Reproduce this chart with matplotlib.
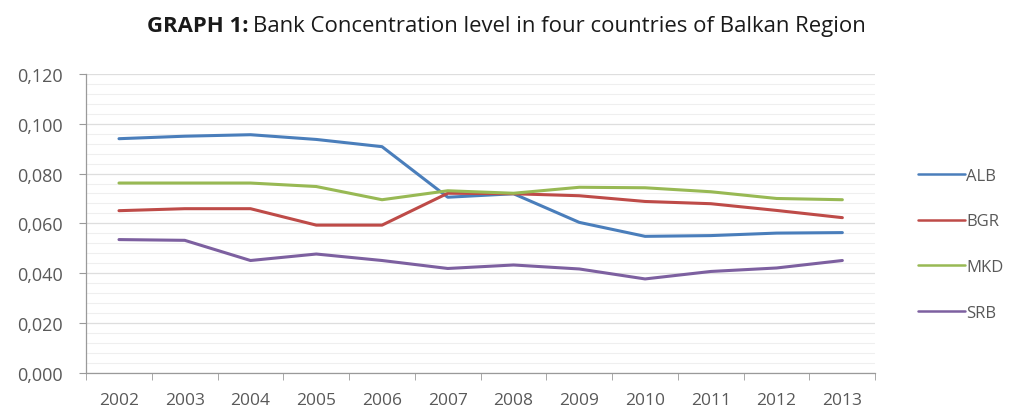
import numpy as np
import matplotlib
matplotlib.use("Agg")
from matplotlib import pyplot as plt
from matplotlib.ticker import MultipleLocator, FixedLocator

# data
years = ['2002', '2003', '2004', '2005', '2006', '2007',
         '2008', '2009', '2010', '2011', '2012', '2013']
alb = [0.094, 0.095, 0.0956, 0.0937, 0.0908, 0.0705,
       0.0719, 0.0604, 0.0548, 0.0551, 0.0561, 0.0563]
bgr = [0.0651, 0.0659, 0.0659, 0.0593, 0.0593, 0.0721,
       0.0719, 0.0711, 0.0688, 0.0679, 0.0652, 0.0623]
mkd = [0.0762, 0.0762, 0.0762, 0.0748, 0.0695, 0.0731,
       0.0721, 0.0745, 0.0743, 0.0727, 0.0700, 0.0695]
srb = [0.0535, 0.0532, 0.0451, 0.0477, 0.0451, 0.0419,
       0.0433, 0.0417, 0.0377, 0.0407, 0.0421, 0.0451]

series = [('ALB', alb, '#4a7ebb'), ('BGR', bgr, '#be4b48'),
          ('MKD', mkd, '#98b954'), ('SRB', srb, '#7d60a0')]

plt.rcParams['font.family'] = ['Open Sans', 'DejaVu Sans']

fig = plt.figure(figsize=(10.13, 4.14), dpi=100)
ax = fig.add_axes([0.085, 0.097, 0.779, 0.722])

x = np.arange(len(years))
for name, vals, col in series:
    ax.plot(x, vals, color=col, lw=2.2, label=name, solid_capstyle='round')

ax.set_xlim(-0.5, len(years) - 0.5)
ax.set_ylim(0, 0.12)
yt = np.arange(0, 0.121, 0.02)
ax.set_yticks(yt)
ax.set_yticklabels([('%.3f' % v).replace('.', ',') for v in yt])
ax.yaxis.set_minor_locator(MultipleLocator(0.004))

ax.set_xticks(x)
ax.set_xticklabels(years)
ax.xaxis.set_minor_locator(FixedLocator(np.arange(-0.5, len(years), 1)))
ax.tick_params(axis='x', which='major', length=0, pad=14, labelsize=12.5, colors='#595959')
ax.tick_params(axis='x', which='minor', length=5, color='#9a9a9a', direction='out')
ax.tick_params(axis='y', which='major', length=5, color='#9a9a9a', pad=12, labelsize=13, colors='#595959')
ax.tick_params(axis='y', which='minor', length=0)

ax.grid(axis='y', which='major', color='#dedede', lw=0.9)
ax.grid(axis='y', which='minor', color='#efefef', lw=0.8)
ax.set_axisbelow(True)

for s in ['top', 'right']:
    ax.spines[s].set_visible(False)
for s in ['left', 'bottom']:
    ax.spines[s].set_color('#9a9a9a')
    ax.spines[s].set_linewidth(0.9)

leg = ax.legend(loc='center left', bbox_to_anchor=(1.035, 0.43), frameon=False,
                fontsize=12, handlelength=2.8, handletextpad=0.1,
                labelspacing=1.78, labelcolor='#595959')
for ln in leg.get_lines():
    ln.set_linewidth(1.8)

t1 = fig.text(0.145, 0.935, 'GRAPH 1:', fontsize=15.9, fontweight='bold',
              color='#1a1a1a', va='center')
fig.canvas.draw()
bb = t1.get_window_extent()
fig.text((bb.x1 + 5) / fig.bbox.width, 0.935,
         'Bank Concentration level in four countries of Balkan Region',
         fontsize=15.9, color='#1a1a1a', va='center')

plt.savefig('out.png', dpi=100)
